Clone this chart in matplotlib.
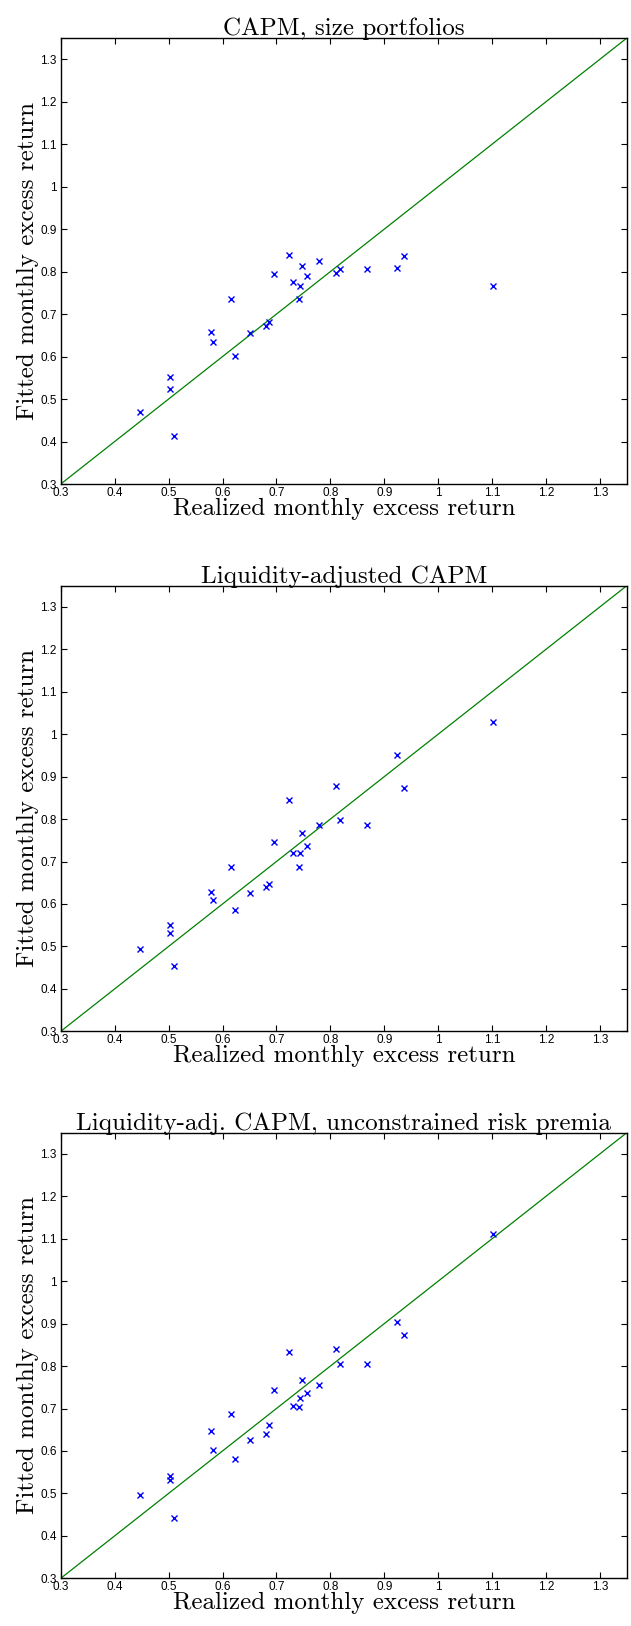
"""
Fitted vs realized monthly excess returns for the size portfolios,
three model variants stacked vertically.
"""
import matplotlib
matplotlib.use('Agg')
import matplotlib.pyplot as plt

# realized returns (same for all panels)
realized = [0.447, 0.502, 0.502, 0.510, 0.578, 0.582, 0.616, 0.623, 0.651,
            0.680, 0.686, 0.696, 0.724, 0.730, 0.743, 0.742, 0.748, 0.756,
            0.778, 0.810, 0.818, 0.868, 0.923, 0.936, 1.102]

fitted_capm = [0.469, 0.551, 0.524, 0.414, 0.659, 0.635, 0.735, 0.602, 0.655,
               0.672, 0.682, 0.795, 0.840, 0.776, 0.767, 0.735, 0.814, 0.789,
               0.826, 0.797, 0.807, 0.807, 0.808, 0.836, 0.766]

fitted_lcapm = [0.494, 0.550, 0.532, 0.454, 0.628, 0.610, 0.687, 0.586, 0.625,
                0.640, 0.648, 0.746, 0.844, 0.720, 0.719, 0.688, 0.767, 0.737,
                0.786, 0.879, 0.797, 0.786, 0.950, 0.873, 1.029]

fitted_unc = [0.496, 0.542, 0.531, 0.441, 0.647, 0.602, 0.687, 0.582, 0.626,
              0.639, 0.661, 0.744, 0.834, 0.705, 0.725, 0.703, 0.766, 0.736,
              0.755, 0.839, 0.806, 0.806, 0.903, 0.874, 1.110]

titles = ['CAPM, size portfolios',
          'Liquidity-adjusted CAPM',
          'Liquidity-adj. CAPM, unconstrained risk premia']

ticks = [0.3, 0.4, 0.5, 0.6, 0.7, 0.8, 0.9, 1.0, 1.1, 1.2, 1.3]
tick_labels = ['0.3', '0.4', '0.5', '0.6', '0.7', '0.8', '0.9', '1', '1.1', '1.2', '1.3']
lims = [0.3, 1.35]

SERIF = 'cmr10'
SANS = ['Liberation Sans', 'DejaVu Sans']

fig = plt.figure(figsize=(6.31, 16.26), dpi=100)

# axes rectangles [left, bottom, width, height] in figure fractions
boxes = [[0.0962, 0.7023, 0.8975, 0.2744],
         [0.0962, 0.3657, 0.8975, 0.2742],
         [0.0962, 0.0293, 0.8975, 0.2742]]

for box, title, fitted in zip(boxes, titles, [fitted_capm, fitted_lcapm, fitted_unc]):
    ax = fig.add_axes(box)
    ax.plot(lims, lims, color=(0, 0.5, 0), lw=0.9)
    ax.plot(realized, fitted, 'x', color=(0, 0, 1), ms=5, mew=1.0)
    ax.set_xlim(lims)
    ax.set_ylim(lims)
    ax.set_xticks(ticks)
    ax.set_yticks(ticks)
    ax.set_xticklabels(tick_labels, family=SANS, fontsize=8.5)
    ax.set_yticklabels(tick_labels, family=SANS, fontsize=8.5)
    ax.tick_params(direction='in', top=True, right=True, length=4, width=0.8)
    ax.tick_params(axis='x', pad=2)
    ax.tick_params(axis='y', pad=3)
    for s in ax.spines.values():
        s.set_linewidth(1.0)
    ax.set_title(title, family=SERIF, fontsize=18, pad=2)
    ax.set_xlabel('Realized monthly excess return', family=SERIF, fontsize=18, labelpad=-1)
    ax.set_ylabel('Fitted monthly excess return', family=SERIF, fontsize=18, labelpad=1)

fig.savefig('out.png', dpi=100)
